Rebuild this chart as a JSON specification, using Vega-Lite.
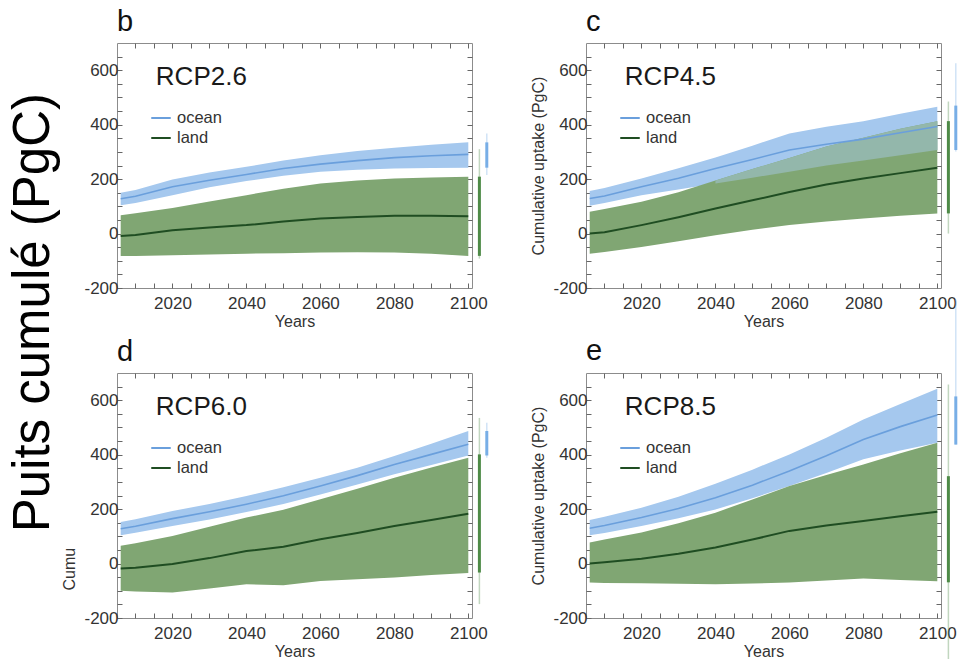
{
  "$schema": "https://vega.github.io/schema/vega-lite/v6.json",
  "padding": {"left": 8, "top": 7, "right": 0, "bottom": 0},
  "title": {"text": "Puits   cumulé   (PgC)", "orient": "left", "fontSize": 51, "fontWeight": "normal", "color": "#000", "offset": 1, "anchor": "middle", "dx": 21},
  "columns": 2,
  "bounds": "flush",
  "spacing": {"row": 85, "column": 114},
  "resolve": {"scale": {"color": "independent"}},
  "datasets": {
    "series": [
      {"panel":"b","year":2006,"o_lo":104,"o_mid":128,"o_hi":150,"l_lo":-82,"l_mid":-9,"l_hi":67},
      {"panel":"b","year":2010,"o_lo":112,"o_mid":137,"o_hi":160,"l_lo":-82,"l_mid":-5,"l_hi":75},
      {"panel":"b","year":2020,"o_lo":141,"o_mid":172,"o_hi":199,"l_lo":-80,"l_mid":12,"l_hi":94},
      {"panel":"b","year":2030,"o_lo":170,"o_mid":196,"o_hi":224,"l_lo":-77,"l_mid":22,"l_hi":118},
      {"panel":"b","year":2040,"o_lo":193,"o_mid":217,"o_hi":245,"l_lo":-74,"l_mid":31,"l_hi":141},
      {"panel":"b","year":2050,"o_lo":212,"o_mid":239,"o_hi":268,"l_lo":-72,"l_mid":44,"l_hi":165},
      {"panel":"b","year":2060,"o_lo":227,"o_mid":255,"o_hi":288,"l_lo":-70,"l_mid":55,"l_hi":184},
      {"panel":"b","year":2070,"o_lo":234,"o_mid":268,"o_hi":303,"l_lo":-69,"l_mid":61,"l_hi":195},
      {"panel":"b","year":2080,"o_lo":239,"o_mid":279,"o_hi":315,"l_lo":-70,"l_mid":65,"l_hi":202},
      {"panel":"b","year":2090,"o_lo":241,"o_mid":286,"o_hi":326,"l_lo":-74,"l_mid":65,"l_hi":206},
      {"panel":"b","year":2100,"o_lo":242,"o_mid":291,"o_hi":335,"l_lo":-82,"l_mid":64,"l_hi":209},
      {"panel":"c","year":2006,"o_lo":102,"o_mid":129,"o_hi":156,"l_lo":-74,"l_mid":0,"l_hi":80},
      {"panel":"c","year":2010,"o_lo":112,"o_mid":138,"o_hi":167,"l_lo":-68,"l_mid":5,"l_hi":90},
      {"panel":"c","year":2020,"o_lo":141,"o_mid":172,"o_hi":202,"l_lo":-49,"l_mid":31,"l_hi":117},
      {"panel":"c","year":2030,"o_lo":162,"o_mid":203,"o_hi":240,"l_lo":-28,"l_mid":60,"l_hi":152},
      {"panel":"c","year":2040,"o_lo":184,"o_mid":239,"o_hi":279,"l_lo":-6,"l_mid":92,"l_hi":195},
      {"panel":"c","year":2050,"o_lo":205,"o_mid":272,"o_hi":323,"l_lo":14,"l_mid":122,"l_hi":237},
      {"panel":"c","year":2060,"o_lo":227,"o_mid":307,"o_hi":368,"l_lo":31,"l_mid":153,"l_hi":278},
      {"panel":"c","year":2070,"o_lo":250,"o_mid":328,"o_hi":392,"l_lo":44,"l_mid":180,"l_hi":320},
      {"panel":"c","year":2080,"o_lo":268,"o_mid":347,"o_hi":413,"l_lo":55,"l_mid":202,"l_hi":352},
      {"panel":"c","year":2090,"o_lo":288,"o_mid":370,"o_hi":440,"l_lo":65,"l_mid":222,"l_hi":385},
      {"panel":"c","year":2100,"o_lo":307,"o_mid":393,"o_hi":466,"l_lo":74,"l_mid":242,"l_hi":413},
      {"panel":"d","year":2006,"o_lo":104,"o_mid":128,"o_hi":153,"l_lo":-100,"l_mid":-18,"l_hi":65},
      {"panel":"d","year":2010,"o_lo":113,"o_mid":137,"o_hi":163,"l_lo":-103,"l_mid":-15,"l_hi":75},
      {"panel":"d","year":2020,"o_lo":138,"o_mid":165,"o_hi":193,"l_lo":-106,"l_mid":-2,"l_hi":101},
      {"panel":"d","year":2030,"o_lo":162,"o_mid":190,"o_hi":219,"l_lo":-92,"l_mid":20,"l_hi":135},
      {"panel":"d","year":2040,"o_lo":189,"o_mid":218,"o_hi":248,"l_lo":-76,"l_mid":46,"l_hi":169},
      {"panel":"d","year":2050,"o_lo":219,"o_mid":249,"o_hi":280,"l_lo":-80,"l_mid":62,"l_hi":198},
      {"panel":"d","year":2060,"o_lo":254,"o_mid":285,"o_hi":315,"l_lo":-64,"l_mid":89,"l_hi":236},
      {"panel":"d","year":2070,"o_lo":290,"o_mid":323,"o_hi":352,"l_lo":-58,"l_mid":112,"l_hi":275},
      {"panel":"d","year":2080,"o_lo":328,"o_mid":364,"o_hi":395,"l_lo":-51,"l_mid":138,"l_hi":315},
      {"panel":"d","year":2090,"o_lo":362,"o_mid":401,"o_hi":440,"l_lo":-42,"l_mid":160,"l_hi":353},
      {"panel":"d","year":2100,"o_lo":397,"o_mid":438,"o_hi":487,"l_lo":-35,"l_mid":183,"l_hi":389},
      {"panel":"e","year":2006,"o_lo":104,"o_mid":130,"o_hi":160,"l_lo":-70,"l_mid":0,"l_hi":77},
      {"panel":"e","year":2010,"o_lo":112,"o_mid":140,"o_hi":172,"l_lo":-71,"l_mid":5,"l_hi":88},
      {"panel":"e","year":2020,"o_lo":138,"o_mid":169,"o_hi":205,"l_lo":-72,"l_mid":18,"l_hi":114},
      {"panel":"e","year":2030,"o_lo":166,"o_mid":202,"o_hi":245,"l_lo":-74,"l_mid":36,"l_hi":148},
      {"panel":"e","year":2040,"o_lo":199,"o_mid":242,"o_hi":293,"l_lo":-76,"l_mid":59,"l_hi":187},
      {"panel":"e","year":2050,"o_lo":240,"o_mid":288,"o_hi":345,"l_lo":-73,"l_mid":88,"l_hi":235},
      {"panel":"e","year":2060,"o_lo":285,"o_mid":340,"o_hi":401,"l_lo":-70,"l_mid":120,"l_hi":285},
      {"panel":"e","year":2070,"o_lo":333,"o_mid":396,"o_hi":462,"l_lo":-62,"l_mid":140,"l_hi":325},
      {"panel":"e","year":2080,"o_lo":383,"o_mid":456,"o_hi":529,"l_lo":-55,"l_mid":156,"l_hi":364},
      {"panel":"e","year":2090,"o_lo":415,"o_mid":503,"o_hi":586,"l_lo":-60,"l_mid":174,"l_hi":405},
      {"panel":"e","year":2100,"o_lo":444,"o_mid":546,"o_hi":642,"l_lo":-65,"l_mid":190,"l_hi":444}
    ],
    "bars": [
      {"panel":"b","series":"land","kind":"range","lo":-92,"hi":310},
      {"panel":"b","series":"land","kind":"core","lo":-82,"hi":209},
      {"panel":"b","series":"ocean","kind":"range","lo":215,"hi":368},
      {"panel":"b","series":"ocean","kind":"core","lo":242,"hi":335},
      {"panel":"c","series":"land","kind":"range","lo":0,"hi":485},
      {"panel":"c","series":"land","kind":"core","lo":74,"hi":413},
      {"panel":"c","series":"ocean","kind":"range","lo":301,"hi":626},
      {"panel":"c","series":"ocean","kind":"core","lo":307,"hi":470},
      {"panel":"d","series":"land","kind":"range","lo":-149,"hi":535},
      {"panel":"d","series":"land","kind":"core","lo":-33,"hi":401},
      {"panel":"d","series":"ocean","kind":"range","lo":389,"hi":517},
      {"panel":"d","series":"ocean","kind":"core","lo":397,"hi":487},
      {"panel":"e","series":"land","kind":"range","lo":-351,"hi":658},
      {"panel":"e","series":"land","kind":"core","lo":-69,"hi":321},
      {"panel":"e","series":"ocean","kind":"range","lo":437,"hi":969},
      {"panel":"e","series":"ocean","kind":"core","lo":437,"hi":614}
    ],
    "labels": [
      {"panel":"b","scen":"RCP2.6"},
      {"panel":"c","scen":"RCP4.5"},
      {"panel":"d","scen":"RCP6.0"},
      {"panel":"e","scen":"RCP8.5"}
    ]
  },
  "concat": [
    {
      "width": 355, "height": 245,
      "title": {"text": "b", "anchor": "start", "frame": "group", "fontSize": 29, "fontWeight": "normal", "color": "#111", "offset": 6},
      "resolve": {"axis": {"x": "independent", "y": "independent"}},
      "layer": [
        {"data": {"name": "series"}, "transform": [{"filter": "datum.panel === 'b'"}],
         "mark": {"type": "area", "color": "#a5c8ee"},
         "encoding": {
           "x": {"field": "year", "type": "quantitative", "scale": {"domain": [2005, 2101], "nice": false, "zero": false},
                 "axis": {"orient": "bottom", "values": [2010,2015,2020,2025,2030,2035,2040,2045,2050,2055,2060,2065,2070,2075,2080,2085,2090,2095,2100], "labelExpr": "datum.value % 20 === 0 ? '' + datum.value : ''", "tickSize": -5, "labelPadding": 12, "title": "Years", "titlePadding": 2}},
           "y": {"field": "o_lo", "type": "quantitative", "scale": {"domain": [-200, 700], "nice": false, "zero": false},
                 "axis": {"orient": "left", "values": [-200,-150,-100,-50,0,50,100,150,200,250,300,350,400,450,500,550,600,650], "labelExpr": "datum.value % 200 === 0 ? '' + datum.value : ''", "tickSize": -5, "labelPadding": 4, "title": null}},
           "y2": {"field": "o_hi"}
         }},
        {"data": {"name": "series"}, "transform": [{"filter": "datum.panel === 'b'"}],
         "mark": {"type": "area", "color": "#80a673"},
         "encoding": {
           "x": {"field": "year", "type": "quantitative", "scale": {"domain": [2005, 2101], "nice": false, "zero": false},
                 "axis": {"orient": "top", "values": [2010,2015,2020,2025,2030,2035,2040,2045,2050,2055,2060,2065,2070,2075,2080,2085,2090,2095,2100], "labels": false, "tickSize": -5, "title": null}},
           "y": {"field": "l_lo", "type": "quantitative", "scale": {"domain": [-200, 700], "nice": false, "zero": false},
                 "axis": {"orient": "right", "values": [-150,-100,-50,0,50,100,150,200,250,300,350,400,450,500,550,600,650], "labels": false, "tickSize": -5, "title": null}},
           "y2": {"field": "l_hi"}
         }},
        {"data": {"name": "series"}, "transform": [{"filter": "datum.panel === 'b' && datum.l_hi > datum.o_lo"}],
         "mark": {"type": "area", "color": "#93b7ab"},
         "encoding": {"x": {"field": "year", "type": "quantitative", "axis": null}, "y": {"field": "o_lo", "type": "quantitative", "axis": null}, "y2": {"field": "l_hi"}}},
        {"data": {"name": "series"}, "transform": [{"filter": "datum.panel === 'b'"}],
         "mark": {"type": "line", "strokeWidth": 1.6},
         "encoding": {"x": {"field": "year", "type": "quantitative", "axis": null}, "y": {"field": "o_mid", "type": "quantitative", "axis": null},
           "color": {"datum": "ocean", "scale": {"domain": ["ocean", "land"], "range": ["#6a9fdc", "#1f4d22"]},
             "legend": {"orient": "none", "legendX": 33, "legendY": 64, "title": null, "symbolType": "stroke", "symbolSize": 380, "symbolStrokeWidth": 2, "labelFontSize": 16.5, "labelColor": "#333", "rowPadding": 0, "labelOffset": 5}}}},
        {"data": {"name": "series"}, "transform": [{"filter": "datum.panel === 'b'"}],
         "mark": {"type": "line", "strokeWidth": 2},
         "encoding": {"x": {"field": "year", "type": "quantitative", "axis": null}, "y": {"field": "l_mid", "type": "quantitative", "axis": null},
           "color": {"datum": "land"}}},
        {"mark": {"type": "rule", "strokeDash": [2, 4], "color": "#333", "strokeWidth": 1.3},
         "encoding": {"y": {"datum": 0, "type": "quantitative", "axis": null}}},
        {"data": {"name": "bars"}, "transform": [{"filter": "datum.panel === 'b' && datum.series === 'land'"}],
         "mark": {"type": "rule", "color": "#4e8a47"},
         "encoding": {"x": {"datum": 2103, "type": "quantitative", "axis": null}, "y": {"field": "lo", "type": "quantitative", "axis": null}, "y2": {"field": "hi"},
           "strokeWidth": {"field": "kind", "type": "nominal", "scale": {"domain": ["range", "core"], "range": [1.5, 3]}, "legend": null},
           "opacity": {"field": "kind", "type": "nominal", "scale": {"domain": ["range", "core"], "range": [0.35, 1]}, "legend": null}}},
        {"data": {"name": "bars"}, "transform": [{"filter": "datum.panel === 'b' && datum.series === 'ocean'"}],
         "mark": {"type": "rule", "color": "#78aee6"},
         "encoding": {"x": {"datum": 2105, "type": "quantitative", "axis": null}, "y": {"field": "lo", "type": "quantitative", "axis": null}, "y2": {"field": "hi"},
           "strokeWidth": {"field": "kind", "type": "nominal", "scale": {"domain": ["range", "core"], "range": [1.5, 3]}, "legend": null},
           "opacity": {"field": "kind", "type": "nominal", "scale": {"domain": ["range", "core"], "range": [0.35, 1]}, "legend": null}}},
        {"data": {"name": "labels"}, "transform": [{"filter": "datum.panel === 'b'"}],
         "mark": {"type": "text", "align": "left", "baseline": "alphabetic", "fontSize": 26, "color": "#1a1a1a"},
         "encoding": {"x": {"datum": 2015.5, "type": "quantitative", "axis": null}, "y": {"datum": 546, "type": "quantitative", "axis": null}, "text": {"field": "scen"}}}
      ]
    },
    {
      "width": 355, "height": 245,
      "title": {"text": "c", "anchor": "start", "frame": "group", "fontSize": 29, "fontWeight": "normal", "color": "#111", "offset": 6},
      "resolve": {"axis": {"x": "independent", "y": "independent"}},
      "layer": [
        {"data": {"name": "series"}, "transform": [{"filter": "datum.panel === 'c'"}],
         "mark": {"type": "area", "color": "#a5c8ee"},
         "encoding": {
           "x": {"field": "year", "type": "quantitative", "scale": {"domain": [2005, 2101], "nice": false, "zero": false},
                 "axis": {"orient": "bottom", "values": [2010,2015,2020,2025,2030,2035,2040,2045,2050,2055,2060,2065,2070,2075,2080,2085,2090,2095,2100], "labelExpr": "datum.value % 20 === 0 ? '' + datum.value : ''", "tickSize": -5, "labelPadding": 12, "title": "Years", "titlePadding": 2}},
           "y": {"field": "o_lo", "type": "quantitative", "scale": {"domain": [-200, 700], "nice": false, "zero": false},
                 "axis": {"orient": "left", "values": [-200,-150,-100,-50,0,50,100,150,200,250,300,350,400,450,500,550,600,650], "labelExpr": "datum.value % 200 === 0 ? '' + datum.value : ''", "tickSize": -5, "labelPadding": 4, "title": "Cumulative uptake (PgC)", "titlePadding": 6}},
           "y2": {"field": "o_hi"}
         }},
        {"data": {"name": "series"}, "transform": [{"filter": "datum.panel === 'c'"}],
         "mark": {"type": "area", "color": "#80a673"},
         "encoding": {
           "x": {"field": "year", "type": "quantitative", "scale": {"domain": [2005, 2101], "nice": false, "zero": false},
                 "axis": {"orient": "top", "values": [2010,2015,2020,2025,2030,2035,2040,2045,2050,2055,2060,2065,2070,2075,2080,2085,2090,2095,2100], "labels": false, "tickSize": -5, "title": null}},
           "y": {"field": "l_lo", "type": "quantitative", "scale": {"domain": [-200, 700], "nice": false, "zero": false},
                 "axis": {"orient": "right", "values": [-150,-100,-50,0,50,100,150,200,250,300,350,400,450,500,550,600,650], "labels": false, "tickSize": -5, "title": null}},
           "y2": {"field": "l_hi"}
         }},
        {"data": {"name": "series"}, "transform": [{"filter": "datum.panel === 'c' && datum.l_hi > datum.o_lo"}],
         "mark": {"type": "area", "color": "#93b7ab"},
         "encoding": {"x": {"field": "year", "type": "quantitative", "axis": null}, "y": {"field": "o_lo", "type": "quantitative", "axis": null}, "y2": {"field": "l_hi"}}},
        {"data": {"name": "series"}, "transform": [{"filter": "datum.panel === 'c'"}],
         "mark": {"type": "line", "strokeWidth": 1.6},
         "encoding": {"x": {"field": "year", "type": "quantitative", "axis": null}, "y": {"field": "o_mid", "type": "quantitative", "axis": null},
           "color": {"datum": "ocean", "scale": {"domain": ["ocean", "land"], "range": ["#6a9fdc", "#1f4d22"]},
             "legend": {"orient": "none", "legendX": 33, "legendY": 64, "title": null, "symbolType": "stroke", "symbolSize": 380, "symbolStrokeWidth": 2, "labelFontSize": 16.5, "labelColor": "#333", "rowPadding": 0, "labelOffset": 5}}}},
        {"data": {"name": "series"}, "transform": [{"filter": "datum.panel === 'c'"}],
         "mark": {"type": "line", "strokeWidth": 2},
         "encoding": {"x": {"field": "year", "type": "quantitative", "axis": null}, "y": {"field": "l_mid", "type": "quantitative", "axis": null},
           "color": {"datum": "land"}}},
        {"mark": {"type": "rule", "strokeDash": [2, 4], "color": "#333", "strokeWidth": 1.3},
         "encoding": {"y": {"datum": 0, "type": "quantitative", "axis": null}}},
        {"data": {"name": "bars"}, "transform": [{"filter": "datum.panel === 'c' && datum.series === 'land'"}],
         "mark": {"type": "rule", "color": "#4e8a47"},
         "encoding": {"x": {"datum": 2103, "type": "quantitative", "axis": null}, "y": {"field": "lo", "type": "quantitative", "axis": null}, "y2": {"field": "hi"},
           "strokeWidth": {"field": "kind", "type": "nominal", "scale": {"domain": ["range", "core"], "range": [1.5, 3]}, "legend": null},
           "opacity": {"field": "kind", "type": "nominal", "scale": {"domain": ["range", "core"], "range": [0.35, 1]}, "legend": null}}},
        {"data": {"name": "bars"}, "transform": [{"filter": "datum.panel === 'c' && datum.series === 'ocean'"}],
         "mark": {"type": "rule", "color": "#78aee6"},
         "encoding": {"x": {"datum": 2105, "type": "quantitative", "axis": null}, "y": {"field": "lo", "type": "quantitative", "axis": null}, "y2": {"field": "hi"},
           "strokeWidth": {"field": "kind", "type": "nominal", "scale": {"domain": ["range", "core"], "range": [1.5, 3]}, "legend": null},
           "opacity": {"field": "kind", "type": "nominal", "scale": {"domain": ["range", "core"], "range": [0.35, 1]}, "legend": null}}},
        {"data": {"name": "labels"}, "transform": [{"filter": "datum.panel === 'c'"}],
         "mark": {"type": "text", "align": "left", "baseline": "alphabetic", "fontSize": 26, "color": "#1a1a1a"},
         "encoding": {"x": {"datum": 2015.5, "type": "quantitative", "axis": null}, "y": {"datum": 546, "type": "quantitative", "axis": null}, "text": {"field": "scen"}}}
      ]
    },
    {
      "width": 355, "height": 245,
      "title": {"text": "d", "anchor": "start", "frame": "group", "fontSize": 29, "fontWeight": "normal", "color": "#111", "offset": 6},
      "resolve": {"axis": {"x": "independent", "y": "independent"}},
      "layer": [
        {"data": {"name": "series"}, "transform": [{"filter": "datum.panel === 'd'"}],
         "mark": {"type": "area", "color": "#a5c8ee"},
         "encoding": {
           "x": {"field": "year", "type": "quantitative", "scale": {"domain": [2005, 2101], "nice": false, "zero": false},
                 "axis": {"orient": "bottom", "values": [2010,2015,2020,2025,2030,2035,2040,2045,2050,2055,2060,2065,2070,2075,2080,2085,2090,2095,2100], "labelExpr": "datum.value % 20 === 0 ? '' + datum.value : ''", "tickSize": -5, "labelPadding": 12, "title": "Years", "titlePadding": 2}},
           "y": {"field": "o_lo", "type": "quantitative", "scale": {"domain": [-200, 700], "nice": false, "zero": false},
                 "axis": {"orient": "left", "values": [-200,-150,-100,-50,0,50,100,150,200,250,300,350,400,450,500,550,600,650], "labelExpr": "datum.value % 200 === 0 ? '' + datum.value : ''", "tickSize": -5, "labelPadding": 4, "title": "Cumu", "titleY": 217, "titleAlign": "left", "titlePadding": 6}},
           "y2": {"field": "o_hi"}
         }},
        {"data": {"name": "series"}, "transform": [{"filter": "datum.panel === 'd'"}],
         "mark": {"type": "area", "color": "#80a673"},
         "encoding": {
           "x": {"field": "year", "type": "quantitative", "scale": {"domain": [2005, 2101], "nice": false, "zero": false},
                 "axis": {"orient": "top", "values": [2010,2015,2020,2025,2030,2035,2040,2045,2050,2055,2060,2065,2070,2075,2080,2085,2090,2095,2100], "labels": false, "tickSize": -5, "title": null}},
           "y": {"field": "l_lo", "type": "quantitative", "scale": {"domain": [-200, 700], "nice": false, "zero": false},
                 "axis": {"orient": "right", "values": [-150,-100,-50,0,50,100,150,200,250,300,350,400,450,500,550,600,650], "labels": false, "tickSize": -5, "title": null}},
           "y2": {"field": "l_hi"}
         }},
        {"data": {"name": "series"}, "transform": [{"filter": "datum.panel === 'd' && datum.l_hi > datum.o_lo"}],
         "mark": {"type": "area", "color": "#93b7ab"},
         "encoding": {"x": {"field": "year", "type": "quantitative", "axis": null}, "y": {"field": "o_lo", "type": "quantitative", "axis": null}, "y2": {"field": "l_hi"}}},
        {"data": {"name": "series"}, "transform": [{"filter": "datum.panel === 'd'"}],
         "mark": {"type": "line", "strokeWidth": 1.6},
         "encoding": {"x": {"field": "year", "type": "quantitative", "axis": null}, "y": {"field": "o_mid", "type": "quantitative", "axis": null},
           "color": {"datum": "ocean", "scale": {"domain": ["ocean", "land"], "range": ["#6a9fdc", "#1f4d22"]},
             "legend": {"orient": "none", "legendX": 33, "legendY": 64, "title": null, "symbolType": "stroke", "symbolSize": 380, "symbolStrokeWidth": 2, "labelFontSize": 16.5, "labelColor": "#333", "rowPadding": 0, "labelOffset": 5}}}},
        {"data": {"name": "series"}, "transform": [{"filter": "datum.panel === 'd'"}],
         "mark": {"type": "line", "strokeWidth": 2},
         "encoding": {"x": {"field": "year", "type": "quantitative", "axis": null}, "y": {"field": "l_mid", "type": "quantitative", "axis": null},
           "color": {"datum": "land"}}},
        {"mark": {"type": "rule", "strokeDash": [2, 4], "color": "#333", "strokeWidth": 1.3},
         "encoding": {"y": {"datum": 0, "type": "quantitative", "axis": null}}},
        {"data": {"name": "bars"}, "transform": [{"filter": "datum.panel === 'd' && datum.series === 'land'"}],
         "mark": {"type": "rule", "color": "#4e8a47"},
         "encoding": {"x": {"datum": 2103, "type": "quantitative", "axis": null}, "y": {"field": "lo", "type": "quantitative", "axis": null}, "y2": {"field": "hi"},
           "strokeWidth": {"field": "kind", "type": "nominal", "scale": {"domain": ["range", "core"], "range": [1.5, 3]}, "legend": null},
           "opacity": {"field": "kind", "type": "nominal", "scale": {"domain": ["range", "core"], "range": [0.35, 1]}, "legend": null}}},
        {"data": {"name": "bars"}, "transform": [{"filter": "datum.panel === 'd' && datum.series === 'ocean'"}],
         "mark": {"type": "rule", "color": "#78aee6"},
         "encoding": {"x": {"datum": 2105, "type": "quantitative", "axis": null}, "y": {"field": "lo", "type": "quantitative", "axis": null}, "y2": {"field": "hi"},
           "strokeWidth": {"field": "kind", "type": "nominal", "scale": {"domain": ["range", "core"], "range": [1.5, 3]}, "legend": null},
           "opacity": {"field": "kind", "type": "nominal", "scale": {"domain": ["range", "core"], "range": [0.35, 1]}, "legend": null}}},
        {"data": {"name": "labels"}, "transform": [{"filter": "datum.panel === 'd'"}],
         "mark": {"type": "text", "align": "left", "baseline": "alphabetic", "fontSize": 26, "color": "#1a1a1a"},
         "encoding": {"x": {"datum": 2015.5, "type": "quantitative", "axis": null}, "y": {"datum": 546, "type": "quantitative", "axis": null}, "text": {"field": "scen"}}}
      ]
    },
    {
      "width": 355, "height": 245,
      "title": {"text": "e", "anchor": "start", "frame": "group", "fontSize": 29, "fontWeight": "normal", "color": "#111", "offset": -67},
      "resolve": {"axis": {"x": "independent", "y": "independent"}},
      "layer": [
        {"data": {"name": "series"}, "transform": [{"filter": "datum.panel === 'e'"}],
         "mark": {"type": "area", "color": "#a5c8ee"},
         "encoding": {
           "x": {"field": "year", "type": "quantitative", "scale": {"domain": [2005, 2101], "nice": false, "zero": false},
                 "axis": {"orient": "bottom", "values": [2010,2015,2020,2025,2030,2035,2040,2045,2050,2055,2060,2065,2070,2075,2080,2085,2090,2095,2100], "labelExpr": "datum.value % 20 === 0 ? '' + datum.value : ''", "tickSize": -5, "labelPadding": 12, "title": "Years", "titlePadding": 2}},
           "y": {"field": "o_lo", "type": "quantitative", "scale": {"domain": [-200, 700], "nice": false, "zero": false},
                 "axis": {"orient": "left", "values": [-200,-150,-100,-50,0,50,100,150,200,250,300,350,400,450,500,550,600,650], "labelExpr": "datum.value % 200 === 0 ? '' + datum.value : ''", "tickSize": -5, "labelPadding": 4, "title": "Cumulative uptake (PgC)", "titlePadding": 6}},
           "y2": {"field": "o_hi"}
         }},
        {"data": {"name": "series"}, "transform": [{"filter": "datum.panel === 'e'"}],
         "mark": {"type": "area", "color": "#80a673"},
         "encoding": {
           "x": {"field": "year", "type": "quantitative", "scale": {"domain": [2005, 2101], "nice": false, "zero": false},
                 "axis": {"orient": "top", "values": [2010,2015,2020,2025,2030,2035,2040,2045,2050,2055,2060,2065,2070,2075,2080,2085,2090,2095,2100], "labels": false, "tickSize": -5, "title": null}},
           "y": {"field": "l_lo", "type": "quantitative", "scale": {"domain": [-200, 700], "nice": false, "zero": false},
                 "axis": {"orient": "right", "values": [-150,-100,-50,0,50,100,150,200,250,300,350,400,450,500,550,600,650], "labels": false, "tickSize": -5, "title": null}},
           "y2": {"field": "l_hi"}
         }},
        {"data": {"name": "series"}, "transform": [{"filter": "datum.panel === 'e' && datum.l_hi > datum.o_lo"}],
         "mark": {"type": "area", "color": "#93b7ab"},
         "encoding": {"x": {"field": "year", "type": "quantitative", "axis": null}, "y": {"field": "o_lo", "type": "quantitative", "axis": null}, "y2": {"field": "l_hi"}}},
        {"data": {"name": "series"}, "transform": [{"filter": "datum.panel === 'e'"}],
         "mark": {"type": "line", "strokeWidth": 1.6},
         "encoding": {"x": {"field": "year", "type": "quantitative", "axis": null}, "y": {"field": "o_mid", "type": "quantitative", "axis": null},
           "color": {"datum": "ocean", "scale": {"domain": ["ocean", "land"], "range": ["#6a9fdc", "#1f4d22"]},
             "legend": {"orient": "none", "legendX": 33, "legendY": 64, "title": null, "symbolType": "stroke", "symbolSize": 380, "symbolStrokeWidth": 2, "labelFontSize": 16.5, "labelColor": "#333", "rowPadding": 0, "labelOffset": 5}}}},
        {"data": {"name": "series"}, "transform": [{"filter": "datum.panel === 'e'"}],
         "mark": {"type": "line", "strokeWidth": 2},
         "encoding": {"x": {"field": "year", "type": "quantitative", "axis": null}, "y": {"field": "l_mid", "type": "quantitative", "axis": null},
           "color": {"datum": "land"}}},
        {"mark": {"type": "rule", "strokeDash": [2, 4], "color": "#333", "strokeWidth": 1.3},
         "encoding": {"y": {"datum": 0, "type": "quantitative", "axis": null}}},
        {"data": {"name": "bars"}, "transform": [{"filter": "datum.panel === 'e' && datum.series === 'land'"}],
         "mark": {"type": "rule", "color": "#4e8a47"},
         "encoding": {"x": {"datum": 2103, "type": "quantitative", "axis": null}, "y": {"field": "lo", "type": "quantitative", "axis": null}, "y2": {"field": "hi"},
           "strokeWidth": {"field": "kind", "type": "nominal", "scale": {"domain": ["range", "core"], "range": [1.5, 3]}, "legend": null},
           "opacity": {"field": "kind", "type": "nominal", "scale": {"domain": ["range", "core"], "range": [0.35, 1]}, "legend": null}}},
        {"data": {"name": "bars"}, "transform": [{"filter": "datum.panel === 'e' && datum.series === 'ocean'"}],
         "mark": {"type": "rule", "color": "#78aee6"},
         "encoding": {"x": {"datum": 2105, "type": "quantitative", "axis": null}, "y": {"field": "lo", "type": "quantitative", "axis": null}, "y2": {"field": "hi"},
           "strokeWidth": {"field": "kind", "type": "nominal", "scale": {"domain": ["range", "core"], "range": [1.5, 3]}, "legend": null},
           "opacity": {"field": "kind", "type": "nominal", "scale": {"domain": ["range", "core"], "range": [0.35, 1]}, "legend": null}}},
        {"data": {"name": "labels"}, "transform": [{"filter": "datum.panel === 'e'"}],
         "mark": {"type": "text", "align": "left", "baseline": "alphabetic", "fontSize": 26, "color": "#1a1a1a"},
         "encoding": {"x": {"datum": 2015.5, "type": "quantitative", "axis": null}, "y": {"datum": 546, "type": "quantitative", "axis": null}, "text": {"field": "scen"}}}
      ]
    }
  ],
  "config": {
    "font": "Liberation Sans",
    "background": "white",
    "view": {"stroke": "#8c8c8c", "strokeWidth": 1},
    "axis": {"grid": false, "domain": false, "ticks": true, "zindex": 1, "tickColor": "#666", "tickWidth": 1, "labelColor": "#333", "labelFontSize": 17, "titleFontSize": 16, "titleFontWeight": "normal", "titleColor": "#333", "labelOverlap": false, "labelFlush": false, "labelBound": false},
    "legend": {"labelFont": "Liberation Sans"}
  }
}
